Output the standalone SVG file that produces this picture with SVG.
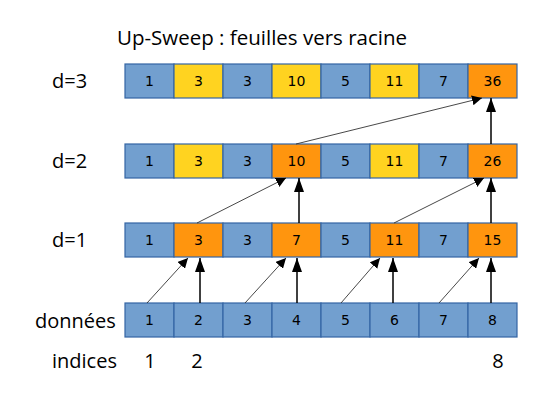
<svg xmlns="http://www.w3.org/2000/svg" width="559" height="397" viewBox="0 0 559 397">
<defs>
<marker id="ah" viewBox="0 0 10 10" refX="10" refY="5" markerWidth="10" markerHeight="10" markerUnits="userSpaceOnUse" orient="auto">
<path d="M0,0 L10,5 L0,10 Z" fill="#000"/>
</marker>
<marker id="ahb" viewBox="0 0 14 10" refX="14" refY="5" markerWidth="14" markerHeight="10" markerUnits="userSpaceOnUse" orient="auto">
<path d="M0,0 L14,5 L0,10 Z" fill="#000"/>
</marker>
</defs>
<style>
.c rect{stroke:#3465a4;stroke-width:1.2}
.b{fill:#729fcf}
.y{fill:#ffd320}
.o{fill:#ff950e}
.c text{font-family:"DejaVu Sans","Liberation Sans",sans-serif;font-size:14px;fill:#000;text-anchor:middle}
.lbl{font-family:"Open Sans","Liberation Sans",sans-serif;font-size:20px;fill:#000}
.ttl{font-family:"Open Sans","Liberation Sans",sans-serif;font-size:20.5px;fill:#000}
.d{stroke:#333;stroke-width:0.9;fill:none}
.v{stroke:#000;stroke-width:1.5;fill:none}
</style>
<rect width="559" height="397" fill="#fff"/>
<text class="ttl" x="117" y="45">Up-Sweep : feuilles vers racine</text>
<g id="labels">
<text class="lbl" x="52" y="88">d=3</text>
<text class="lbl" x="52" y="168">d=2</text>
<text class="lbl" x="52" y="247">d=1</text>
<text class="lbl" x="35" y="328">données</text>
<text class="lbl" x="52" y="368">indices</text>
<text class="lbl" x="150" y="368" text-anchor="middle">1</text>
<text class="lbl" x="197" y="368" text-anchor="middle">2</text>
<text class="lbl" x="498" y="368" text-anchor="middle">8</text>
</g>
<g id="row-d3" class="c">
<rect class="b" x="125" y="64" width="49" height="34"/><text x="149.5" y="86">1</text>
<rect class="y" x="174" y="64" width="49" height="34"/><text x="198.5" y="86">3</text>
<rect class="b" x="223" y="64" width="49" height="34"/><text x="247.5" y="86">3</text>
<rect class="y" x="272" y="64" width="49" height="34"/><text x="296.5" y="86">10</text>
<rect class="b" x="321" y="64" width="49" height="34"/><text x="345.5" y="86">5</text>
<rect class="y" x="370" y="64" width="49" height="34"/><text x="394.5" y="86">11</text>
<rect class="b" x="419" y="64" width="49" height="34"/><text x="443.5" y="86">7</text>
<rect class="o" x="468" y="64" width="49" height="34"/><text x="492.5" y="86">36</text>
</g>
<g id="row-d2" class="c">
<rect class="b" x="125" y="144" width="49" height="34"/><text x="149.5" y="166">1</text>
<rect class="y" x="174" y="144" width="49" height="34"/><text x="198.5" y="166">3</text>
<rect class="b" x="223" y="144" width="49" height="34"/><text x="247.5" y="166">3</text>
<rect class="o" x="272" y="144" width="49" height="34"/><text x="296.5" y="166">10</text>
<rect class="b" x="321" y="144" width="49" height="34"/><text x="345.5" y="166">5</text>
<rect class="y" x="370" y="144" width="49" height="34"/><text x="394.5" y="166">11</text>
<rect class="b" x="419" y="144" width="49" height="34"/><text x="443.5" y="166">7</text>
<rect class="o" x="468" y="144" width="49" height="34"/><text x="492.5" y="166">26</text>
</g>
<g id="row-d1" class="c">
<rect class="b" x="125" y="223" width="49" height="34"/><text x="149.5" y="245">1</text>
<rect class="o" x="174" y="223" width="49" height="34"/><text x="198.5" y="245">3</text>
<rect class="b" x="223" y="223" width="49" height="34"/><text x="247.5" y="245">3</text>
<rect class="o" x="272" y="223" width="49" height="34"/><text x="296.5" y="245">7</text>
<rect class="b" x="321" y="223" width="49" height="34"/><text x="345.5" y="245">5</text>
<rect class="o" x="370" y="223" width="49" height="34"/><text x="394.5" y="245">11</text>
<rect class="b" x="419" y="223" width="49" height="34"/><text x="443.5" y="245">7</text>
<rect class="o" x="468" y="223" width="49" height="34"/><text x="492.5" y="245">15</text>
</g>
<g id="row-data" class="c">
<rect class="b" x="125" y="303" width="49" height="34"/><text x="149.5" y="325">1</text>
<rect class="b" x="174" y="303" width="49" height="34"/><text x="198.5" y="325">2</text>
<rect class="b" x="223" y="303" width="49" height="34"/><text x="247.5" y="325">3</text>
<rect class="b" x="272" y="303" width="49" height="34"/><text x="296.5" y="325">4</text>
<rect class="b" x="321" y="303" width="49" height="34"/><text x="345.5" y="325">5</text>
<rect class="b" x="370" y="303" width="49" height="34"/><text x="394.5" y="325">6</text>
<rect class="b" x="419" y="303" width="49" height="34"/><text x="443.5" y="325">7</text>
<rect class="b" x="468" y="303" width="49" height="34"/><text x="492.5" y="325">8</text>
</g>
<g id="connectors">
<line class="d" x1="147" y1="303" x2="188" y2="258" marker-end="url(#ah)"/>
<line class="v" x1="200" y1="303" x2="200" y2="258" marker-end="url(#ahb)"/>
<line class="d" x1="245" y1="303" x2="286" y2="258" marker-end="url(#ah)"/>
<line class="v" x1="297" y1="303" x2="297" y2="258" marker-end="url(#ahb)"/>
<line class="d" x1="341" y1="303" x2="380" y2="258" marker-end="url(#ah)"/>
<line class="v" x1="393" y1="303" x2="393" y2="258" marker-end="url(#ahb)"/>
<line class="d" x1="439" y1="303" x2="479" y2="258" marker-end="url(#ah)"/>
<line class="v" x1="491" y1="303" x2="491" y2="258" marker-end="url(#ahb)"/>
<line class="d" x1="197" y1="223" x2="286" y2="178" marker-end="url(#ah)"/>
<line class="v" x1="299" y1="223" x2="299" y2="178" marker-end="url(#ahb)"/>
<line class="d" x1="394" y1="223" x2="484" y2="178" marker-end="url(#ah)"/>
<line class="v" x1="491" y1="223" x2="491" y2="178" marker-end="url(#ahb)"/>
<line class="d" x1="296" y1="144" x2="482" y2="98" marker-end="url(#ah)"/>
<line class="v" x1="491" y1="144" x2="491" y2="98" marker-end="url(#ahb)"/>
</g>
</svg>
